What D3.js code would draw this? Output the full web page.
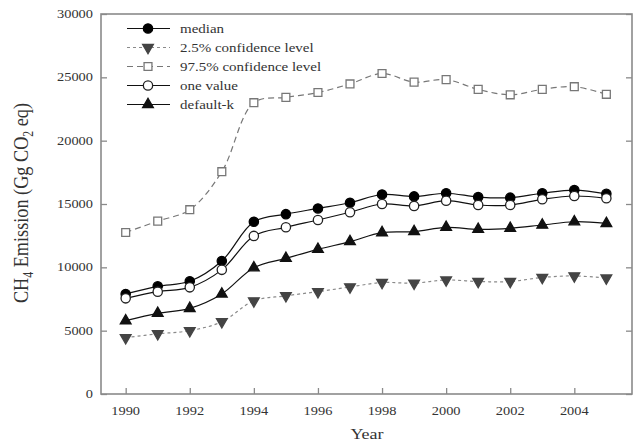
<!DOCTYPE html>
<html>
<head>
<meta charset="utf-8">
<script src="https://cdn.jsdelivr.net/npm/d3@7"></script>
<style>
  html, body { margin: 0; padding: 0; background: #fff; }
  svg { display: block; }
  text { font-family: "Liberation Serif", "Times New Roman", serif; fill: #333; }
</style>
</head>
<body>
<svg id="chart" width="637" height="442"></svg>
<script>
// Annual CH4 emission estimates (Gg CO2 eq)
const years = [1990, 1991, 1992, 1993, 1994, 1995, 1996, 1997, 1998, 1999, 2000, 2001, 2002, 2003, 2004, 2005];
const median = [7900, 8500, 8900, 10500, 13600, 14200, 14650, 15100, 15750, 15600, 15850, 15550, 15500, 15850, 16100, 15800];
const lower25 = [4450, 4750, 5000, 5700, 7350, 7750, 8080, 8450, 8800, 8750, 9000, 8880, 8880, 9200, 9320, 9150];
const upper975 = [12750, 13650, 14550, 17550, 23000, 23420, 23800, 24480, 25300, 24620, 24820, 24050, 23620, 24050, 24260, 23660];
const oneValue = [7550, 8080, 8420, 9800, 12480, 13160, 13740, 14350, 15000, 14850, 15260, 14920, 14920, 15370, 15630, 15450];
const defaultK = [5790, 6370, 6760, 7900, 9970, 10710, 11420, 12030, 12740, 12820, 13160, 13000, 13080, 13340, 13600, 13470];

const yTicks = [0, 5000, 10000, 15000, 20000, 25000, 30000];
const xTicks = [1990, 1992, 1994, 1996, 1998, 2000, 2002, 2004];

const svg = d3.select("#chart");
const pLeft = 101, pRight = 632, pTop = 14, pBottom = 394;
const stretch = 1.2; // horizontal stretch applied to label glyphs

const x = d3.scaleLinear().domain([1989.23, 2005.8]).range([pLeft, pRight]);
const y = d3.scaleLinear().domain([0, 30000]).range([pBottom, pTop]);

const axisColor = "#8a8a8a";

// frame
svg.append("rect")
  .attr("x", pLeft).attr("y", pTop)
  .attr("width", pRight - pLeft).attr("height", pBottom - pTop)
  .attr("fill", "none").attr("stroke", axisColor).attr("stroke-width", 1.6);

// stretched text helper
function label(g, tx, ty, str, size, anchor) {
  const grp = g.append("g").attr("transform", `translate(${tx},${ty}) scale(${stretch},1)`);
  return grp.append("text").attr("text-anchor", anchor).attr("font-size", size).text(str);
}

// y axis ticks (inward) and labels
const yAxis = svg.append("g").attr("transform", `translate(${pLeft},0)`)
  .call(d3.axisLeft(y).tickValues(yTicks).tickSizeInner(-6).tickSizeOuter(0).tickFormat(""));
yAxis.select(".domain").remove();
yAxis.selectAll("line").attr("stroke", axisColor).attr("stroke-width", 1.3);
yTicks.forEach(v => label(svg, 93, y(v) + 4, String(v), 12, "end"));

// right axis ticks (inward)
const yAxisR = svg.append("g").attr("transform", `translate(${pRight},0)`)
  .call(d3.axisRight(y).tickValues(yTicks).tickSizeInner(-6).tickSizeOuter(0).tickFormat(""));
yAxisR.select(".domain").remove();
yAxisR.selectAll("line").attr("stroke", axisColor).attr("stroke-width", 1.3);

// x axis ticks (inward) and labels
const xAxis = svg.append("g").attr("transform", `translate(0,${pBottom})`)
  .call(d3.axisBottom(x).tickValues(xTicks).tickSizeInner(-6).tickSizeOuter(0).tickFormat(""));
xAxis.select(".domain").remove();
xAxis.selectAll("line").attr("stroke", axisColor).attr("stroke-width", 1.3);
xTicks.forEach(v => label(svg, x(v), 415, String(v), 12, "middle"));

// axis titles
label(svg, 367, 439, "Year", 15, "middle");

const yt = svg.append("g").attr("transform", `translate(28,203) rotate(-90) scale(1,${stretch})`)
  .append("text").attr("text-anchor", "middle").attr("font-size", 17);
yt.append("tspan").text("CH");
yt.append("tspan").attr("font-size", 11).attr("dy", 4).text("4");
yt.append("tspan").attr("dy", -4).text(" Emission (Gg CO");
yt.append("tspan").attr("font-size", 11).attr("dy", 4).text("2");
yt.append("tspan").attr("dy", -4).text(" eq)");
// size the title so it spans about 200px along the axis
const ytLen = yt.node().getComputedTextLength();
if (ytLen > 0) {
  const k = 200 / ytLen;
  yt.attr("font-size", 17 * k);
  yt.selectAll("tspan").filter(function () { return this.getAttribute("font-size"); })
    .attr("font-size", 11 * k);
}

// series definitions
const series = [
  { name: "median", values: median, stroke: "#111", dash: null, marker: "circle", fill: "#000", mstroke: "#000" },
  { name: "2.5% confidence level", values: lower25, stroke: "#8a8a8a", dash: "3,3", marker: "down", fill: "#444", mstroke: "#444" },
  { name: "97.5% confidence level", values: upper975, stroke: "#777", dash: "6,4", marker: "square", fill: "#fff", mstroke: "#777" },
  { name: "one value", values: oneValue, stroke: "#111", dash: null, marker: "circle", fill: "#fff", mstroke: "#222" },
  { name: "default-k", values: defaultK, stroke: "#111", dash: null, marker: "up", fill: "#111", mstroke: "#111" }
];

const symbolFor = {
  circle: d3.symbol().type(d3.symbolCircle).size(68),
  square: d3.symbol().type(d3.symbolSquare).size(62),
  up: d3.symbol().type(d3.symbolTriangle).size(50),
  down: d3.symbol().type(d3.symbolTriangle).size(50)
};

function drawMarker(g, s, cx, cy) {
  const rot = s.marker === "down" ? 180 : 0;
  g.append("path")
    .attr("d", symbolFor[s.marker]())
    .attr("transform", `translate(${cx},${cy}) rotate(${rot})`)
    .attr("fill", s.fill).attr("stroke", s.mstroke).attr("stroke-width", 1.3);
}

const line = d3.line()
  .x((d, i) => x(years[i]))
  .y(d => y(d))
  .curve(d3.curveCatmullRom.alpha(0.5));

const plot = svg.append("g");
// draw lines first, markers on top
series.forEach(s => {
  plot.append("path")
    .datum(s.values)
    .attr("d", line)
    .attr("fill", "none")
    .attr("stroke", s.stroke)
    .attr("stroke-width", 1.2)
    .attr("stroke-dasharray", s.dash);
});
series.forEach(s => {
  const g = plot.append("g");
  s.values.forEach((v, i) => drawMarker(g, s, x(years[i]), y(v)));
});

// legend
const legend = svg.append("g");
series.forEach((s, i) => {
  const ly = 28.5 + i * 19;
  legend.append("line")
    .attr("x1", 127).attr("x2", 170).attr("y1", ly).attr("y2", ly)
    .attr("stroke", s.stroke).attr("stroke-width", 1.2)
    .attr("stroke-dasharray", s.dash);
  drawMarker(legend, s, 148, ly);
  label(legend, 180, ly + 4, s.name, 12.5, "start");
});
</script>
</body>
</html>
